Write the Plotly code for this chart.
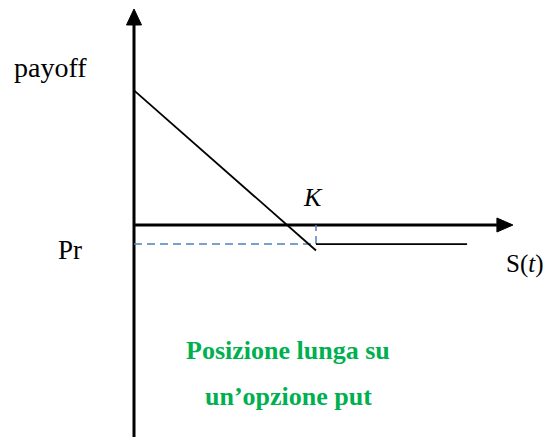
import plotly.graph_objects as go

# ---- data (chart units) ----
strike = 100.0            # K
premium = 10.5            # Pr (paid premium)
diag_S = [0.0, 100.0]
diag_payoff = [74.0, -14.0]
flat_S = [100.0, 183.0]
flat_payoff = [-10.5, -10.5]
x_axis_end = 208.2
y_axis_top = 118.7
y_axis_bottom = -125.0

W, H = 547, 437
scale = 1.82          # px per unit
ox, oy = 134, 225     # origin pixel

xr = [-ox / scale, (W - ox) / scale]
yr = [-(H - oy) / scale, oy / scale]

def px(n):
    return n / scale

fig = go.Figure()

black = "black"
head_len = px(16)
# vertical axis
fig.add_trace(go.Scatter(x=[0, 0], y=[y_axis_bottom, y_axis_top - head_len],
                         mode="lines", line=dict(color=black, width=3), hoverinfo="skip"))
fig.add_trace(go.Scatter(x=[-px(7.5), px(7.5), 0, -px(7.5)],
                         y=[y_axis_top - head_len, y_axis_top - head_len, y_axis_top, y_axis_top - head_len],
                         mode="lines", fill="toself", fillcolor=black, line=dict(color=black, width=1),
                         hoverinfo="skip"))
# horizontal axis
fig.add_trace(go.Scatter(x=[0, x_axis_end - head_len], y=[0, 0],
                         mode="lines", line=dict(color=black, width=3), hoverinfo="skip"))
fig.add_trace(go.Scatter(x=[x_axis_end - head_len, x_axis_end - head_len, x_axis_end, x_axis_end - head_len],
                         y=[-px(7), px(7), 0, -px(7)],
                         mode="lines", fill="toself", fillcolor=black, line=dict(color=black, width=1),
                         hoverinfo="skip"))
# dashed premium guide
fig.add_trace(go.Scatter(x=[0, strike, strike], y=[-premium, -premium, 0],
                         mode="lines", line=dict(color="#4F81BD", width=1.5, dash="8px,5px"),
                         hoverinfo="skip"))
# payoff lines
fig.add_trace(go.Scatter(x=diag_S, y=diag_payoff, mode="lines",
                         line=dict(color=black, width=1.8), hoverinfo="skip"))
fig.add_trace(go.Scatter(x=flat_S, y=flat_payoff, mode="lines",
                         line=dict(color=black, width=1.8), hoverinfo="skip"))

serif = "Times New Roman, Liberation Serif, DejaVu Serif, serif"
def label(text, xp, yp, size, color="black"):
    # xp, yp given in reference-page pixels
    fig.add_annotation(x=(xp - ox) / scale, y=(oy - yp) / scale, text=text,
                       showarrow=False, xanchor="center", yanchor="middle",
                       font=dict(family=serif, size=size, color=color))

label("payoff", 50, 67, 28)
label("Pr", 70, 250, 27)
label("<i>K</i>", 313, 197, 26)
label("S(<i>t</i>)", 525, 264, 25)
label("<b>Posizione lunga su</b>", 288, 350, 26, "#00B050")
label("<b>un’opzione put</b>", 288, 396, 26, "#00B050")

fig.update_layout(
    width=W, height=H, margin=dict(l=0, r=0, t=0, b=0),
    paper_bgcolor="white", plot_bgcolor="white", showlegend=False,
    font=dict(family=serif),
    xaxis=dict(range=xr, visible=False, fixedrange=True),
    yaxis=dict(range=yr, visible=False, fixedrange=True),
)
fig.write_html(
    "out.html",
    config={"displayModeBar": False, "staticPlot": True},
    post_script="document.body.style.margin='0';document.body.style.overflow='hidden';"
                "document.documentElement.style.overflow='hidden';",
)
